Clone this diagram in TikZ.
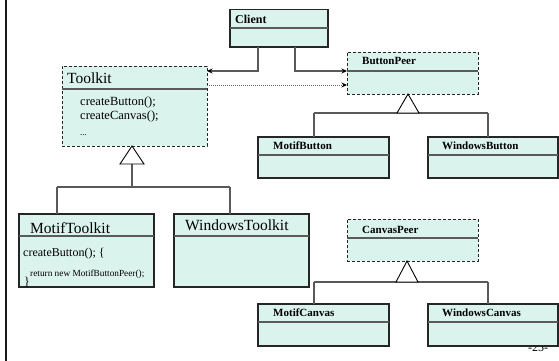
\documentclass[tikz,border=0pt]{standalone}
\usepackage{fontspec}
\setmainfont{Liberation Serif}
\usetikzlibrary{arrows.meta,calc}
\definecolor{boxfill}{RGB}{218,243,236}
\definecolor{linegray}{RGB}{90,90,90}
\begin{document}
\begin{tikzpicture}[x=1pt,y=-1pt,
  box/.style={draw=black!85, line width=1.1pt, fill=boxfill, anchor=north west, inner sep=0pt, outer sep=0pt},
  dbox/.style={box, line width=0.9pt, dash pattern=on 3pt off 2pt},
  div/.style={draw=linegray, line width=1.1pt},
  conn/.style={draw=black!65, line width=1.2pt},
  gen/.style={draw=black, line width=0.9pt, fill=white},
  bl/.style={font=\bfseries\fontsize{11}{13}\selectfont, anchor=base west, inner sep=0pt},
  big/.style={font=\fontsize{15.5}{18}\selectfont, anchor=base west, inner sep=0pt},
  meth/.style={font=\fontsize{12.5}{14}\selectfont, anchor=base west, inner sep=0pt},
  tip/.style={-{Stealth[length=5.5pt,width=5pt,black]}}
]
\useasboundingbox (0,0) rectangle (559,361);
% left border
\draw[line width=2.2pt, black!90] (6.2,0) -- (6.2,361);

% page number (partly hidden)
\node[font=\fontsize{12}{14}\selectfont, anchor=base, inner sep=0pt] (pagenum) at (538,351) {-25-};

% Client
\node[box, minimum width=98pt, minimum height=37.5pt] (client) at (230,9.5) {};
\draw[div] (client.west |- 0,28) -- (client.east |- 0,28);
\node[bl, font=\bfseries\fontsize{12}{14}\selectfont] (clientname) at (235,24) {Client};

% Toolkit
\node[dbox, minimum width=145pt, minimum height=80pt] (toolkit) at (62,66) {};
\draw[div] (toolkit.west |- 0,89) -- (toolkit.east |- 0,89);
\node[big] (toolkitname) at (67,83) {Toolkit};
\node[meth] (tm1) at (80,105) {createButton();};
\node[meth] (tm2) at (80,119) {createCanvas();};
\node[meth, font=\fontsize{9}{10}\selectfont] (tm3) at (80,135) {...};

% ButtonPeer
\node[dbox, minimum width=131pt, minimum height=42pt] (buttonpeer) at (347,52) {};
\draw[div] (buttonpeer.west |- 0,71) -- (buttonpeer.east |- 0,71);
\node[bl] (bpname) at (362,64) {ButtonPeer};

% MotifButton
\node[box, minimum width=131pt, minimum height=41pt] (motifbutton) at (258,137) {};
\draw[div] (motifbutton.west |- 0,155) -- (motifbutton.east |- 0,155);
\node[bl] (mbname) at (273,149) {MotifButton};

% WindowsButton
\node[box, minimum width=130pt, minimum height=41pt] (windowsbutton) at (428,137) {};
\draw[div] (windowsbutton.west |- 0,155) -- (windowsbutton.east |- 0,155);
\node[bl] (wbname) at (442,149) {WindowsButton};

% MotifToolkit
\node[box, minimum width=135pt, minimum height=73pt] (motiftoolkit) at (19,214) {};
\draw[div] (motiftoolkit.west |- 0,236) -- (motiftoolkit.east |- 0,236);
\node[big] (mtname) at (30,233) {MotifToolkit};
\node[meth, font=\fontsize{12}{14}\selectfont] (mt1) at (23,256) {createButton(); \{};
\node[meth, font=\fontsize{9.3}{11}\selectfont] (mt2) at (30,276) {return new MotifButtonPeer();};
\node[meth, font=\fontsize{12}{14}\selectfont] (mt3) at (24,285) {\}};

% WindowsToolkit
\node[box, minimum width=135pt, minimum height=73pt] (windowstoolkit) at (174,214) {};
\draw[div] (windowstoolkit.west |- 0,236) -- (windowstoolkit.east |- 0,236);
\node[big] (wtname) at (185,230) {WindowsToolkit};

% CanvasPeer
\node[dbox, minimum width=131pt, minimum height=42pt] (canvaspeer) at (347,219) {};
\draw[div] (canvaspeer.west |- 0,238) -- (canvaspeer.east |- 0,238);
\node[bl] (cpname) at (362,233) {CanvasPeer};

% MotifCanvas
\node[box, minimum width=131pt, minimum height=42pt] (motifcanvas) at (258,304) {};
\draw[div] (motifcanvas.west |- 0,322) -- (motifcanvas.east |- 0,322);
\node[bl] (mcname) at (273,316) {MotifCanvas};

% WindowsCanvas
\node[box, minimum width=130pt, minimum height=42pt] (windowscanvas) at (428,304) {};
\draw[div] (windowscanvas.west |- 0,322) -- (windowscanvas.east |- 0,322);
\node[bl] (wcname) at (442,316) {WindowsCanvas};

% Client associations
\draw[conn, tip] (client.south -| 258,0) |- (toolkit.east |- 0,71);
\draw[conn, tip] (client.south -| 295,0) |- (buttonpeer.west |- 0,71);
% dependency
\draw[draw=black!60, line width=1pt, dash pattern=on 1pt off 1pt, tip] (toolkit.east |- 0,85) -- (buttonpeer.west |- 0,85);

% Toolkit generalization
\draw[conn] (132,164) -- (132,187);
\draw[conn] (57,187) -- (230,187);
\draw[conn] (57,187) -- (motiftoolkit.north -| 57,0);
\draw[conn] (230,187) -- (windowstoolkit.north -| 230,0);
\draw[gen] (toolkit.south -| 132,0) -- (144,164) -- (120,164) -- cycle;

% ButtonPeer generalization
\draw[conn] (314,113) -- (488,113);
\draw[conn] (314,113) -- (motifbutton.north -| 314,0);
\draw[conn] (488,113) -- (windowsbutton.north -| 488,0);
\draw[gen] (buttonpeer.south -| 408,0) -- (419,113) -- (397,113) -- cycle;

% CanvasPeer generalization
\draw[conn] (314,282) -- (488,282);
\draw[conn] (314,282) -- (motifcanvas.north -| 314,0);
\draw[conn] (488,282) -- (windowscanvas.north -| 488,0);
\draw[gen] (canvaspeer.south -| 407,0) -- (418,282) -- (396,282) -- cycle;
\end{tikzpicture}
\end{document}
